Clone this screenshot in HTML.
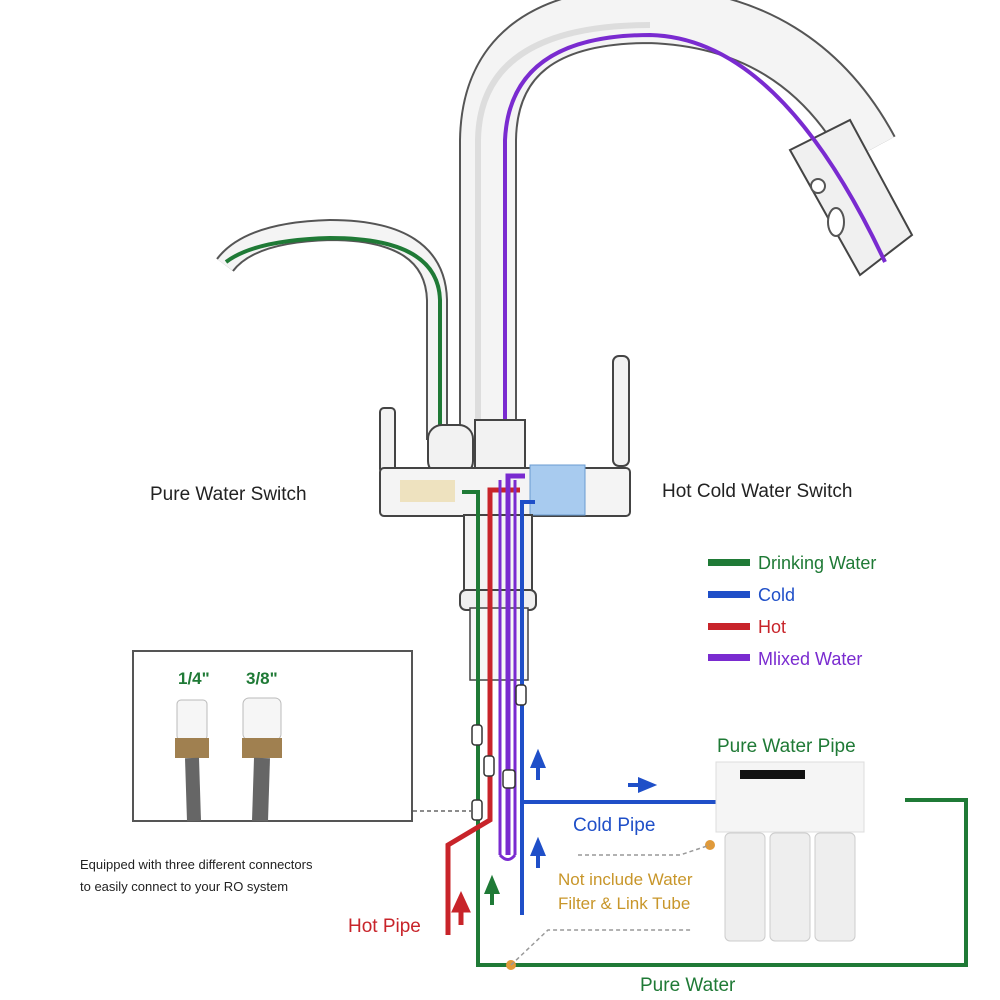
<!DOCTYPE html>
<html><head><style>
body{margin:0;background:#fff;}
svg{display:block;}
text{font-family:"Liberation Sans",sans-serif;}
</style></head><body>
<svg width="1000" height="1000" viewBox="0 0 1000 1000" xmlns="http://www.w3.org/2000/svg">
<!-- main spout tube -->
<path d="M488 470 L488 140 Q490 15 650 15 Q800 20 870 150" fill="none" stroke="#555" stroke-width="58" stroke-linecap="butt"/>
<path d="M488 470 L488 140 Q490 15 650 15 Q800 20 870 150" fill="none" stroke="#f4f4f4" stroke-width="54"/>
<path d="M478 470 L478 140 Q480 25 650 25" fill="none" stroke="#ddd" stroke-width="6"/>
<!-- spout head -->
<path d="M790 150 L850 120 L912 235 L860 275 Z" fill="#f0f0f0" stroke="#444" stroke-width="2"/>
<circle cx="818" cy="186" r="7" fill="#fff" stroke="#555" stroke-width="2"/>
<ellipse cx="836" cy="222" rx="8" ry="14" fill="#fff" stroke="#555" stroke-width="2"/>
<!-- purple inside spout -->
<path d="M505 480 L505 140 Q510 35 650 35 Q780 38 885 262" fill="none" stroke="#7a2bd0" stroke-width="4"/>
<!-- small spout -->
<path d="M437 440 L437 300 Q435 230 330 230 Q250 232 225 265" fill="none" stroke="#555" stroke-width="22"/>
<path d="M437 440 L437 300 Q435 230 330 230 Q250 232 225 265" fill="none" stroke="#f4f4f4" stroke-width="18"/>
<path d="M440 485 L440 300 Q438 238 330 238 Q255 240 226 262" fill="none" stroke="#1f7a36" stroke-width="4"/>
<!-- body -->
<rect x="380" y="408" width="15" height="65" rx="4" fill="#f2f2f2" stroke="#444" stroke-width="2"/>
<rect x="613" y="356" width="16" height="110" rx="6" fill="#f2f2f2" stroke="#444" stroke-width="2"/>
<rect x="428" y="425" width="45" height="50" rx="14" fill="#f2f2f2" stroke="#444" stroke-width="2"/>
<rect x="475" y="420" width="50" height="55" fill="#f2f2f2" stroke="#444" stroke-width="2"/>
<rect x="380" y="468" width="250" height="48" rx="4" fill="#f4f4f4" stroke="#444" stroke-width="2"/>
<rect x="530" y="465" width="55" height="50" fill="#a8cbef" stroke="#6a9bd0" stroke-width="1"/>
<rect x="400" y="480" width="55" height="22" fill="#eee2bf"/>
<rect x="464" y="515" width="68" height="80" fill="#f4f4f4" stroke="#444" stroke-width="2"/>
<rect x="460" y="590" width="76" height="20" rx="6" fill="#f0f0f0" stroke="#444" stroke-width="2"/>
<rect x="470" y="608" width="58" height="72" fill="#f6f6f6" stroke="#444" stroke-width="1.5"/>
<!-- colored pipes -->
<path d="M462 492 L478 492 L478 965 L966 965 L966 800 L905 800" fill="none" stroke="#1f7a36" stroke-width="4"/>
<path d="M520 490 L490 490 L490 820 L448 845 L448 935" fill="none" stroke="#c8242a" stroke-width="5"/>
<path d="M525 476 L508 476 L508 855" fill="none" stroke="#7a2bd0" stroke-width="5"/>
<path d="M500 855 L500 480 M515 480 L515 855" fill="none" stroke="#7a2bd0" stroke-width="3"/>
<path d="M500 855 Q508 864 515 855" fill="none" stroke="#7a2bd0" stroke-width="3"/>
<path d="M535 502 L522 502 L522 915" fill="none" stroke="#1f4fc8" stroke-width="4"/>
<path d="M522 802 L716 802" fill="none" stroke="#1f4fc8" stroke-width="4"/>
<!-- connectors -->
<rect x="472" y="725" width="10" height="20" rx="3" fill="#fff" stroke="#333" stroke-width="1.5"/>
<rect x="484" y="756" width="10" height="20" rx="3" fill="#fff" stroke="#333" stroke-width="1.5"/>
<rect x="472" y="800" width="10" height="20" rx="3" fill="#fff" stroke="#333" stroke-width="1.5"/>
<rect x="503" y="770" width="12" height="18" rx="3" fill="#fff" stroke="#333" stroke-width="1.5"/>
<rect x="516" y="685" width="10" height="20" rx="3" fill="#fff" stroke="#333" stroke-width="1.5"/>
<!-- arrows -->
<path d="M538 780 L538 765 M533 766 L538 754 L543 766 Z" stroke="#1f4fc8" stroke-width="4" fill="#1f4fc8"/>
<path d="M538 868 L538 853 M533 854 L538 842 L543 854 Z" stroke="#1f4fc8" stroke-width="4" fill="#1f4fc8"/>
<path d="M628 785 L642 785 M640 780 L652 785 L640 790 Z" stroke="#1f4fc8" stroke-width="4" fill="#1f4fc8"/>
<path d="M492 905 L492 890 M487 892 L492 880 L497 892 Z" stroke="#1f7a36" stroke-width="4" fill="#1f7a36"/>
<path d="M461 925 L461 908 M455 910 L461 897 L467 910 Z" stroke="#c8242a" stroke-width="5" fill="#c8242a"/>
<!-- filter -->
<rect x="716" y="762" width="148" height="70" fill="#f5f5f5" stroke="#ddd"/>
<rect x="740" y="770" width="65" height="9" fill="#111"/>
<rect x="725" y="833" width="40" height="108" rx="5" fill="#eeeeee" stroke="#ccc"/>
<rect x="770" y="833" width="40" height="108" rx="5" fill="#eeeeee" stroke="#ccc"/>
<rect x="815" y="833" width="40" height="108" rx="5" fill="#eeeeee" stroke="#ccc"/>
<circle cx="710" cy="845" r="5" fill="#e09a3a"/>
<circle cx="511" cy="965" r="5" fill="#e09a3a"/>
<path d="M578 855 L680 855 L710 845" fill="none" stroke="#999" stroke-width="1.5" stroke-dasharray="4,3"/>
<path d="M511 965 L548 930 L692 930" fill="none" stroke="#999" stroke-width="1.5" stroke-dasharray="4,3"/>
<path d="M413 811 L472 811" fill="none" stroke="#666" stroke-width="1.5" stroke-dasharray="4,3"/>
<!-- inset -->
<rect x="133" y="651" width="279" height="170" fill="#fff" stroke="#555" stroke-width="2"/>
<text x="178" y="684" font-size="17" fill="#1f7a36" font-weight="bold">1/4"</text>
<text x="246" y="684" font-size="17" fill="#1f7a36" font-weight="bold">3/8"</text>
<rect x="177" y="700" width="30" height="40" rx="4" fill="#f6f6f6" stroke="#bbb"/>
<rect x="243" y="698" width="38" height="42" rx="6" fill="#f6f6f6" stroke="#bbb"/>
<rect x="175" y="738" width="34" height="20" fill="#a08050"/>
<rect x="242" y="738" width="40" height="20" fill="#a08050"/>
<path d="M192 758 L194 821" fill="none" stroke="#666" stroke-width="14"/>
<path d="M262 758 L260 821" fill="none" stroke="#666" stroke-width="16"/>
<!-- texts -->
<text x="150" y="500" font-size="19" fill="#222">Pure Water Switch</text>
<text x="662" y="497" font-size="19" fill="#222">Hot Cold Water Switch</text>
<rect x="708" y="559" width="42" height="7" fill="#1f7a36"/>
<text x="758" y="569" font-size="18" fill="#1f7a36">Drinking Water</text>
<rect x="708" y="591" width="42" height="7" fill="#1f4fc8"/>
<text x="758" y="601" font-size="18" fill="#1f4fc8">Cold</text>
<rect x="708" y="623" width="42" height="7" fill="#c8242a"/>
<text x="758" y="633" font-size="18" fill="#c8242a">Hot</text>
<rect x="708" y="654" width="42" height="7" fill="#7a2bd0"/>
<text x="758" y="665" font-size="18" fill="#7a2bd0">Mlixed Water</text>
<text x="717" y="752" font-size="19" fill="#1f7a36">Pure Water Pipe</text>
<text x="573" y="831" font-size="19" fill="#1f4fc8">Cold Pipe</text>
<text x="558" y="885" font-size="17" fill="#c8962a">Not include Water</text>
<text x="558" y="909" font-size="17" fill="#c8962a">Filter &amp; Link Tube</text>
<text x="348" y="932" font-size="19" fill="#c8242a">Hot Pipe</text>
<text x="640" y="991" font-size="19" fill="#1f7a36">Pure Water</text>
<text x="80" y="869" font-size="13" fill="#222">Equipped with three different connectors</text>
<text x="80" y="891" font-size="13" fill="#222">to easily connect to your RO system</text>
</svg>
</body></html>
